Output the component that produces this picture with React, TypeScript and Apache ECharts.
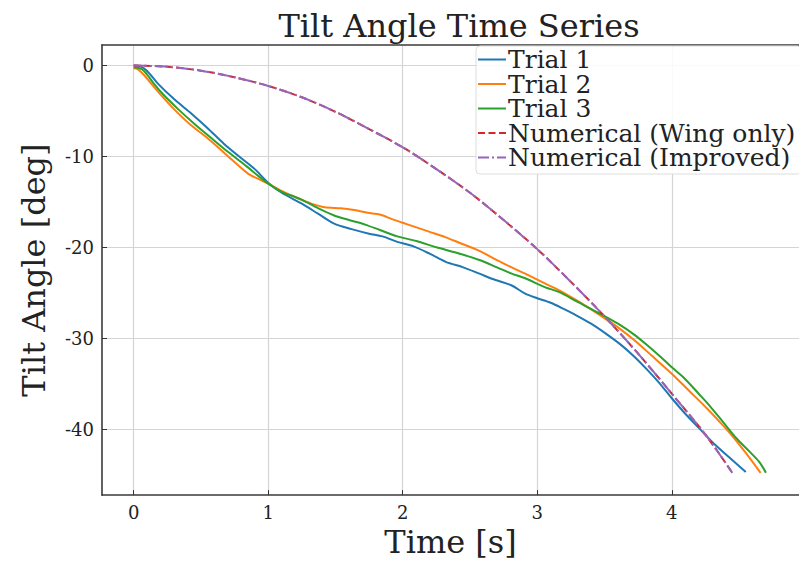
import React, { useEffect, useRef } from "react";
import * as echarts from "echarts";

const FONT = "'DejaVu Serif', serif";

const trial1T = [0, 0.05, 0.1, 0.18, 0.3, 0.43, 0.55, 0.67, 0.8, 0.9, 1.0, 1.1, 1.25, 1.37, 1.49, 1.62, 1.75, 1.85, 1.96, 2.08, 2.2, 2.32, 2.45, 2.57, 2.69, 2.81, 2.91, 3.0, 3.1, 3.2, 3.28, 3.4, 3.52, 3.62, 3.72, 3.82, 3.9, 4.0, 4.1, 4.21, 4.3, 4.42, 4.55];
const trial1V = [0, -0.1, -0.6, -2.0, -3.7, -5.3, -6.9, -8.6, -10.2, -11.4, -12.9, -14.0, -15.2, -16.3, -17.4, -18.0, -18.5, -18.8, -19.4, -19.9, -20.7, -21.6, -22.2, -22.9, -23.6, -24.2, -25.1, -25.6, -26.1, -26.8, -27.4, -28.4, -29.6, -30.7, -32.0, -33.5, -34.8, -36.6, -38.3, -40.0, -41.4, -43.0, -44.7];

const trial2T = [0, 0.03, 0.08, 0.13, 0.2, 0.3, 0.42, 0.55, 0.68, 0.85, 0.93, 1.0, 1.1, 1.22, 1.32, 1.42, 1.54, 1.64, 1.74, 1.83, 1.92, 2.0, 2.08, 2.2, 2.32, 2.42, 2.57, 2.7, 2.81, 2.91, 3.06, 3.16, 3.3, 3.48, 3.6, 3.72, 3.85, 4.0, 4.13, 4.26, 4.35, 4.43, 4.55, 4.66];
const trial2V = [-0.3, -0.4, -1.1, -2.0, -3.2, -4.8, -6.5, -8.0, -9.7, -11.9, -12.5, -13.0, -13.8, -14.6, -15.2, -15.6, -15.7, -15.9, -16.2, -16.4, -16.9, -17.3, -17.7, -18.3, -18.9, -19.5, -20.4, -21.4, -22.2, -22.9, -24.0, -24.7, -25.9, -27.6, -28.8, -30.2, -31.9, -33.9, -35.8, -37.7, -39.1, -40.4, -42.6, -44.8];

const trial3T = [0, 0.06, 0.1, 0.15, 0.22, 0.33, 0.45, 0.57, 0.7, 0.84, 0.93, 1.0, 1.1, 1.24, 1.37, 1.49, 1.6, 1.72, 1.83, 1.96, 2.1, 2.25, 2.4, 2.57, 2.7, 2.81, 2.91, 3.06, 3.16, 3.3, 3.48, 3.6, 3.72, 3.82, 3.92, 4.0, 4.1, 4.2, 4.28, 4.38, 4.48, 4.58, 4.65, 4.7];
const trial3V = [-0.2, -0.4, -1.0, -2.0, -3.2, -4.8, -6.4, -7.9, -9.5, -11.1, -12.2, -13.0, -13.9, -14.7, -15.7, -16.5, -17.0, -17.5, -18.1, -18.8, -19.3, -20.0, -20.6, -21.4, -22.2, -22.9, -23.4, -24.4, -24.9, -26.0, -27.4, -28.4, -29.6, -30.8, -32.1, -33.2, -34.5, -36.1, -37.4, -39.2, -41.0, -42.5, -43.6, -44.8];

const numT = [0, 0.25, 0.5, 0.75, 1.0, 1.25, 1.5, 1.75, 2.0, 2.25, 2.5, 2.75, 3.0, 3.25, 3.5, 3.75, 4.0, 4.25, 4.45];
const numWingV = [0, -0.14, -0.57, -1.3, -2.25, -3.5, -5.1, -7.0, -9.0, -11.4, -14.0, -17.0, -20.2, -23.8, -27.6, -31.7, -36.1, -40.6, -44.8];
const numImprovedV = [0, -0.14, -0.57, -1.3, -2.25, -3.5, -5.1, -7.0, -9.0, -11.4, -14.0, -17.0, -20.2, -23.8, -27.6, -31.7, -36.1, -40.6, -44.8];

const xTicks = [0, 1, 2, 3, 4];
const yTicks = [0, -10, -20, -30, -40];

const zip = (t: number[], v: number[]) => t.map((x, i) => [x, v[i]]);

const ICON_SOLID = "path://M0,0H28V2H0Z";
const ICON_DASH = "path://M0,0h7v2h-7z M10.5,0h7v2h-7z M21,0h7v2h-7z";
const ICON_DASHDOT = "path://M0,0h11v2h-11z M14,0h2v2h-2z M19,0h9v2h-9z";

export default function App() {
  const ref = useRef<HTMLDivElement>(null);
  useEffect(() => {
    if (!ref.current) return;
    const chart = echarts.init(ref.current, null, { renderer: "svg" });
    const spine = { show: true, onZero: false, lineStyle: { color: "#3a3a3a", width: 1.6 } };
    const splitLine = { show: true, lineStyle: { color: "#d4d4d4", width: 1.2 } };
    const lineSeries = (name: string, data: number[][], color: string, type: any, z: number) => ({
      name,
      type: "line",
      data,
      showSymbol: false,
      symbol: "none",
      smooth: 0.3,
      z,
      lineStyle: { color, width: 2, type },
      itemStyle: { color },
    });
    chart.setOption({
      animation: false,
      backgroundColor: "#ffffff",
      title: {
        text: "Tilt Angle Time Series",
        left: 454,
        top: 5,
        textAlign: "center",
        textStyle: { fontFamily: FONT, fontSize: 32, fontWeight: "normal", color: "#222" },
      },
      legend: {
        orient: "vertical",
        left: 476,
        top: 46,
        itemWidth: 28,
        itemHeight: 2,
        itemGap: -0.5,
        padding: [1, 6, 4, 2],
        backgroundColor: "rgba(255,255,255,0.85)",
        borderColor: "#dddddd",
        borderWidth: 1,
        borderRadius: 4,
        textStyle: { fontFamily: FONT, fontSize: 25, color: "#222", lineHeight: 24.5, padding: [0, 0, 0, -3] },
        data: [
          { name: "Trial 1", icon: ICON_SOLID },
          { name: "Trial 2", icon: ICON_SOLID },
          { name: "Trial 3", icon: ICON_SOLID },
          { name: "Numerical (Wing only)", icon: ICON_DASH },
          { name: "Numerical (Improved)", icon: ICON_DASHDOT },
        ],
      },
      grid: { left: 102, top: 45, width: 704, height: 455, containLabel: false },
      xAxis: [
        {
          type: "value",
          min: -0.2355,
          max: 4.9455,
          name: "Time [s]",
          nameLocation: "middle",
          nameGap: 25,
          nameTextStyle: { fontFamily: FONT, fontSize: 32, color: "#222" },
          axisLine: spine,
          axisTick: { show: true, inside: true, length: 5, customValues: xTicks, lineStyle: { color: "#333" } },
          axisLabel: {
            fontFamily: FONT,
            fontSize: 18,
            color: "#222",
            margin: 8,
            customValues: xTicks,
          },
          splitLine,
        },
        {
          type: "value",
          position: "top",
          min: -0.2355,
          max: 4.9455,
          axisLine: spine,
          axisTick: { show: false },
          axisLabel: { show: false },
          splitLine: { show: false },
        },
      ],
      yAxis: {
        type: "value",
        min: -47.25,
        max: 2.25,
        name: "Tilt Angle [deg]",
        nameLocation: "middle",
        nameRotate: 90,
        nameGap: 52,
        nameTextStyle: { fontFamily: FONT, fontSize: 32, color: "#222" },
        axisLine: spine,
        axisTick: { show: true, inside: true, length: 5, customValues: yTicks, lineStyle: { color: "#333" } },
        axisLabel: {
          fontFamily: FONT,
          fontSize: 18,
          color: "#222",
          margin: 8,
          customValues: yTicks,
          formatter: (v: number) => String(v),
        },
        splitLine,
      },
      series: [
        lineSeries("Trial 1", zip(trial1T, trial1V), "#1f77b4", "solid", 3),
        lineSeries("Trial 2", zip(trial2T, trial2V), "#ff7f0e", "solid", 3),
        lineSeries("Trial 3", zip(trial3T, trial3V), "#2ca02c", "solid", 3),
        lineSeries("Numerical (Wing only)", zip(numT, numWingV), "#d62728", [7.4, 3.2], 4),
        lineSeries("Numerical (Improved)", zip(numT, numImprovedV), "#9467bd", [12.8, 3.2, 2, 3.2], 5),
      ],
    });
    return () => chart.dispose();
  }, []);
  return (
    <div
      ref={ref}
      style={{ position: "fixed", left: 0, top: 0, width: 799, height: 563, background: "#fff" }}
    />
  );
}
